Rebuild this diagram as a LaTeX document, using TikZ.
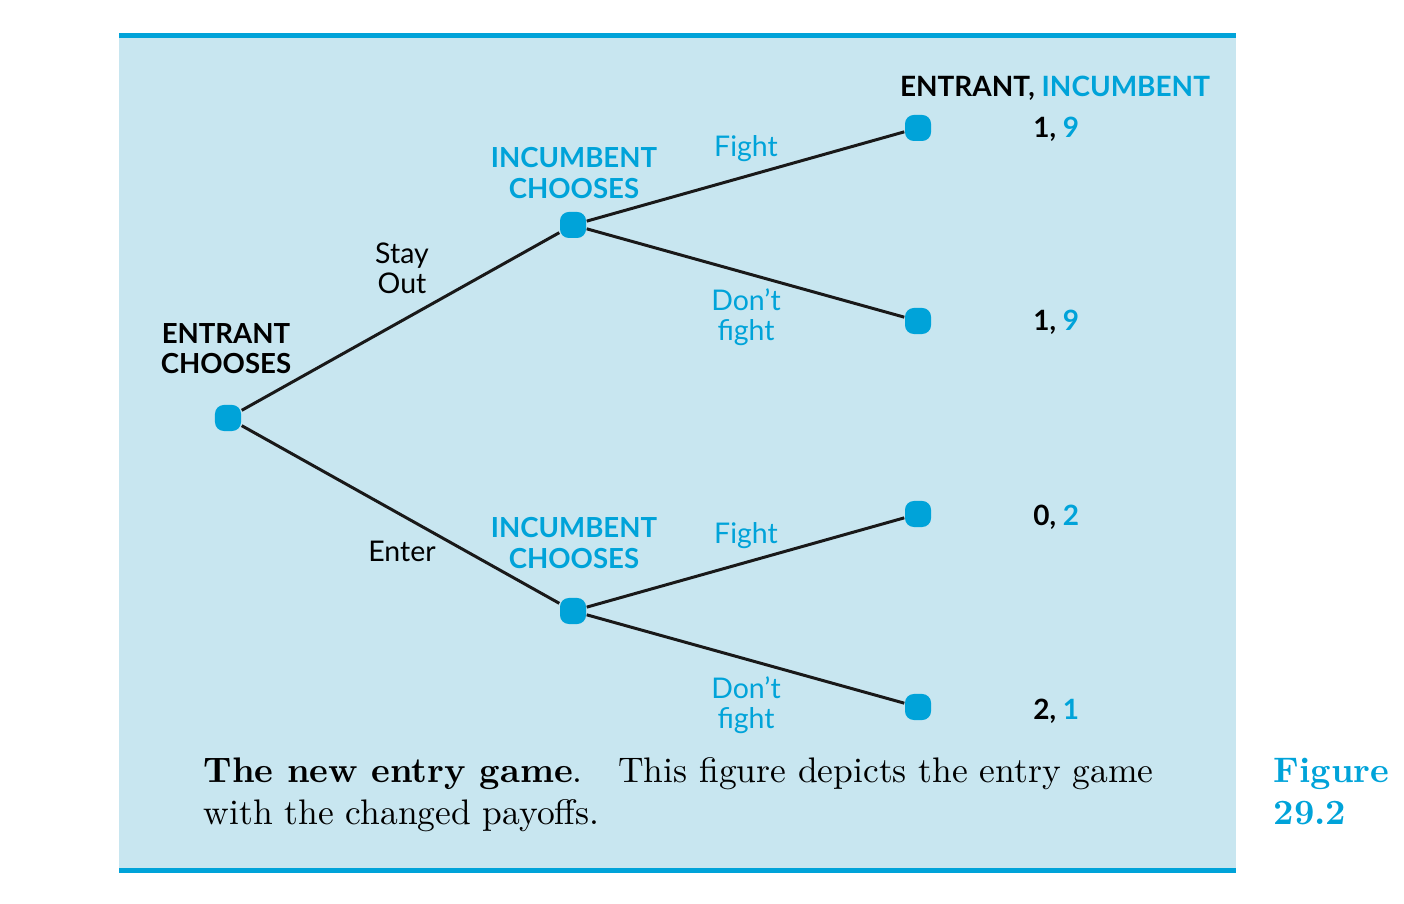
\documentclass[tikz,border=0pt]{standalone}
\usepackage{fontspec}
\usepackage{xcolor}
\usepackage{tikz}
\newfontfamily\labelfont{Lato}

\definecolor{gameblue}{HTML}{00A3D9}
\definecolor{panelblue}{HTML}{C8E6F0}

\tikzset{
    choice/.style={fill=gameblue, rounded corners=2.5pt, minimum width=0.26cm, minimum height=0.26cm, inner sep=0pt},
    mover/.style={font=\labelfont\bfseries\fontsize{7.85}{8.6}\selectfont, align=center},
    move/.style={font=\labelfont\fontsize{8.1}{8.6}\selectfont, align=center},
    payoff/.style={font=\labelfont\bfseries\fontsize{7.95}{9}\selectfont, anchor=west},
    branch/.style={line width=0.85pt, black!90},
}

\begin{document}
\begin{tikzpicture}[x=0.01cm, y=-0.01cm]
    \useasboundingbox (0, 0) rectangle (1404, 904);
    \fill[panelblue] (119, 36) rectangle (1236, 871);
    \fill[gameblue] (119, 33) rectangle (1236, 38);
    \fill[gameblue] (119, 868) rectangle (1236, 873);

    \node[choice] at (228, 418) (root) {};
    \node[choice] at (573, 225) (L1N1) {};
    \node[choice] at (573, 611) (L1N2) {};
    \node[choice] at (918, 128) (L2N1) {};
    \node[choice] at (918, 321) (L2N2) {};
    \node[choice] at (918, 514) (L2N3) {};
    \node[choice] at (918, 707) (L2N4) {};

    \draw[branch] (root) -- (L1N1);
    \draw[branch] (root) -- (L1N2);
    \draw[branch] (L1N1) -- (L2N1);
    \draw[branch] (L1N1) -- (L2N2);
    \draw[branch] (L1N2) -- (L2N3);
    \draw[branch] (L1N2) -- (L2N4);

    \node[mover] at (226, 349) (rootlabel) {ENTRANT\\CHOOSES};
    \node[mover, text=gameblue] at (574, 173) (L1N1label) {INCUMBENT\\CHOOSES};
    \node[mover, text=gameblue] at (574, 543) (L1N2label) {INCUMBENT\\CHOOSES};

    \node[move] at (402, 268) (stayout) {Stay\\Out};
    \node[move] at (402, 551) (enter) {Enter};
    \node[move, text=gameblue] at (746, 149) (fight1) {Fight};
    \node[move, text=gameblue] at (746, 317) (nofight1) {Don’t\\fight};
    \node[move, text=gameblue] at (746, 536) (fight2) {Fight};
    \node[move, text=gameblue] at (746, 705) (nofight2) {Don’t\\fight};

    \node[payoff, anchor=center] at (1055, 88) (header) {ENTRANT, \textcolor{gameblue}{INCUMBENT}};
    \node[payoff] at (1021, 129) (pay1) {1, \textcolor{gameblue}{9}};
    \node[payoff] at (1021, 322) (pay2) {1, \textcolor{gameblue}{9}};
    \node[payoff] at (1021, 517) (pay3) {0, \textcolor{gameblue}{2}};
    \node[payoff] at (1021, 711) (pay4) {2, \textcolor{gameblue}{1}};

    \node[anchor=north west, align=left, inner sep=0pt, font=\fontsize{10.1}{12}\selectfont] at (203, 757) (caption)
        {\textbf{The new entry game}.\quad This figure depicts the entry game\\with the changed payoffs.};
    \node[anchor=north west, align=left, inner sep=0pt, text=gameblue, font=\bfseries\fontsize{10.1}{12}\selectfont] at (1273, 757) (fignum)
        {Figure\\29.2};
\end{tikzpicture}
\end{document}
